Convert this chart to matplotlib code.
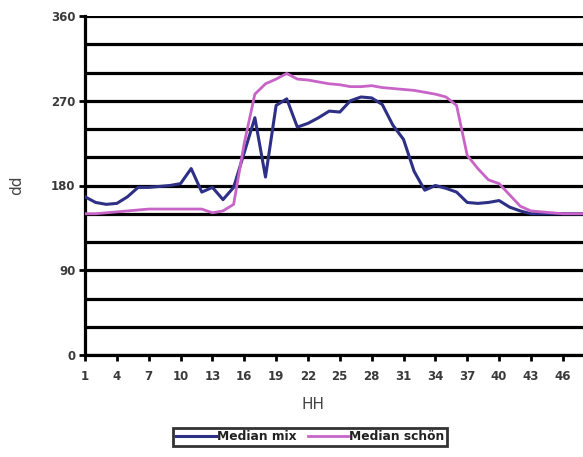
import numpy as np
from matplotlib import pyplot as plt

# hours 1..48
hours = np.arange(1, 49)
median_mix = [168, 162, 160, 161, 168, 178, 178, 179, 180, 182,
              198, 173, 178, 165, 178, 215, 252, 189, 265, 272,
              242, 246, 252, 259, 258, 270, 274, 273, 266, 244,
              229, 195, 175, 180, 177, 173, 162, 161, 162, 164,
              157, 153, 150, 150, 150, 150, 150, 150]
median_schoen = [150, 150, 151, 152, 153, 154, 155, 155, 155, 155,
                 155, 155, 151, 153, 160, 225, 277, 288, 293, 299,
                 293, 292, 290, 288, 287, 285, 285, 286, 284, 283,
                 282, 281, 279, 277, 274, 265, 212, 198, 186, 182,
                 170, 158, 153, 152, 151, 150, 150, 150]
x_ticks = list(range(1, 47, 3))
y_ticks = [0, 90, 180, 270, 360]

fig = plt.figure(figsize=(5.83, 4.57), dpi=100)
ax = fig.add_axes([85/583, 102/457, 499/583, 339/457])

ax.set_yticks(y_ticks)
ax.set_yticks(range(0, 361, 30), minor=True)
ax.yaxis.grid(True, which='both', color='black', linewidth=2.3)
ax.set_axisbelow(True)

ax.plot(hours, median_mix, color='#2e3086', linewidth=2.2, label='Median mix', zorder=3)
ax.plot(hours, median_schoen, color='#c864c8', linewidth=2.0, label='Median schön', zorder=3)

ax.set_xlim(1, 48)
ax.set_ylim(0, 360)
ax.set_xticks(x_ticks)

for s in ['top', 'right']:
    ax.spines[s].set_visible(False)
for s in ['left', 'bottom']:
    ax.spines[s].set_linewidth(2.3)
    ax.spines[s].set_color('black')

ax.tick_params(axis='both', which='major', length=4, width=2, color='black',
               labelsize=8.5, labelcolor='#3a3a3a')
ax.tick_params(axis='x', which='major', pad=7)
ax.tick_params(axis='y', which='major', pad=3)
ax.tick_params(axis='y', which='minor', length=0)
for lab in ax.get_xticklabels() + ax.get_yticklabels():
    lab.set_fontweight('bold')
    lab.set_family('DejaVu Sans')

ax.set_ylabel('dd', fontsize=11, color='#444444')
ax.yaxis.set_label_coords(-0.122, 0.5)
ax.set_xlabel('HH', fontsize=11, color='#444444')
ax.xaxis.set_label_coords(228/499, -0.125)

leg = fig.legend(loc='center', bbox_to_anchor=(310/583, 20/457), ncol=2,
                 frameon=True, fancybox=False, fontsize=8.8, handlelength=3.3,
                 handletextpad=0.1, columnspacing=0.9, borderpad=0.2)
leg.get_frame().set_edgecolor('black')
leg.get_frame().set_linewidth(2)
for t in leg.get_texts():
    t.set_fontweight('bold')
    t.set_color('#222222')

fig.savefig('out.png', dpi=100)
